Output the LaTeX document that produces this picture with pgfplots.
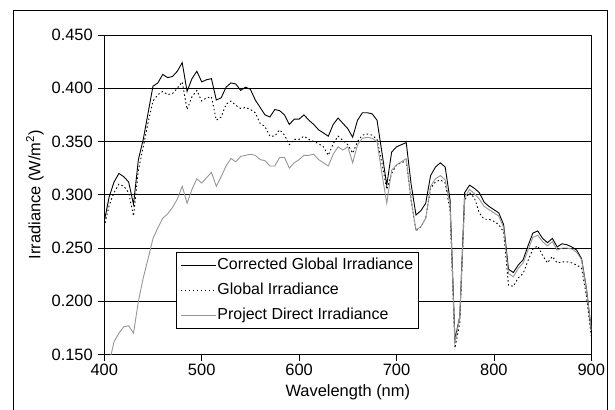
\documentclass[border=0pt]{standalone}
\usepackage{pgfplots}
\usepackage{pgfplotstable}
\pgfplotsset{compat=1.18}
\usepackage{fontspec}
\setmainfont{Liberation Sans}

\definecolor{directgray}{RGB}{150,150,150}

% wavelength, corrected global, global, project direct
\pgfplotstableread{
lam  corr   glob   dir
400  0.275  0.270  nan
405  0.298  0.290  0.142
410  0.312  0.302  0.162
415  0.320  0.310  0.170
420  0.317  0.308  0.176
425  0.312  0.302  0.177
430  0.291  0.280  0.170
435  0.333  0.323  0.200
440  0.352  0.345  0.222
445  0.377  0.368  0.240
450  0.402  0.388  0.259
455  0.405  0.394  0.269
460  0.413  0.397  0.278
465  0.410  0.394  0.282
470  0.411  0.395  0.288
475  0.416  0.400  0.296
480  0.424  0.406  0.308
485  0.397  0.380  0.292
490  0.409  0.392  0.305
495  0.416  0.398  0.315
500  0.406  0.388  0.311
505  0.408  0.391  0.316
510  0.409  0.392  0.321
515  0.389  0.370  0.308
520  0.391  0.373  0.317
525  0.401  0.385  0.327
530  0.405  0.388  0.334
535  0.404  0.384  0.331
540  0.398  0.381  0.336
545  0.401  0.382  0.337
550  0.399  0.380  0.338
555  0.389  0.377  0.337
560  0.382  0.367  0.333
565  0.375  0.364  0.332
570  0.373  0.355  0.327
575  0.380  0.355  0.327
580  0.379  0.361  0.335
585  0.375  0.356  0.335
590  0.366  0.347  0.325
595  0.371  0.352  0.330
600  0.371  0.352  0.333
605  0.375  0.355  0.337
610  0.370  0.352  0.337
615  0.366  0.350  0.338
620  0.361  0.348  0.333
625  0.358  0.345  0.330
630  0.355  0.337  0.327
635  0.366  0.348  0.338
640  0.372  0.355  0.345
645  0.367  0.351  0.342
650  0.362  0.347  0.345
655  0.354  0.339  0.330
660  0.370  0.350  0.347
665  0.377  0.356  0.353
670  0.377  0.357  0.354
675  0.376  0.356  0.353
680  0.370  0.352  0.350
685  0.340  0.330  0.320
690  0.309  0.305  0.292
695  0.340  0.320  0.323
700  0.345  0.328  0.328
705  0.347  0.330  0.331
710  0.349  0.332  0.334
715  0.310  0.295  0.295
720  0.281  0.266  0.267
725  0.285  0.270  0.270
730  0.292  0.278  0.278
735  0.318  0.306  0.308
740  0.326  0.312  0.315
745  0.330  0.314  0.318
750  0.326  0.311  0.314
755  0.295  0.285  0.290
760  0.164  0.156  0.161
765  0.186  0.180  0.186
770  0.302  0.295  0.297
775  0.309  0.302  0.305
780  0.306  0.297  0.301
785  0.302  0.283  0.296
790  0.293  0.277  0.289
795  0.289  0.277  0.286
800  0.286  0.275  0.283
805  0.283  0.272  0.280
810  0.272  0.265  0.269
815  0.230  0.215  0.226
820  0.227  0.214  0.223
825  0.234  0.222  0.231
830  0.239  0.226  0.236
835  0.252  0.238  0.248
840  0.264  0.249  0.260
845  0.266  0.252  0.262
850  0.259  0.243  0.256
855  0.255  0.236  0.252
860  0.259  0.242  0.256
865  0.251  0.236  0.248
870  0.254  0.237  0.250
875  0.253  0.237  0.250
880  0.251  0.236  0.249
885  0.248  0.234  0.246
890  0.240  0.231  0.239
895  0.212  0.205  0.211
900  0.173  0.167  0.173
}\spectrum

\begin{document}
\begin{tikzpicture}
\useasboundingbox (-104.3bp,-55.5bp) rectangle (510.7bp,354.5bp);
\begin{axis}[
    scale only axis,
    width=487bp, height=319.5bp,
    xmin=400, xmax=900,
    ymin=0.15, ymax=0.45,
    xtick={400,500,...,900},
    ytick={0.15,0.2,0.25,0.3,0.35,0.4,0.45},
    /pgf/number format/assume math mode=true,
    ticklabel style={font=\fontsize{16.5}{19}\selectfont},
    yticklabel style={xshift=-2bp,
        /pgf/number format/.cd, fixed, fixed zerofill, precision=3},
    xticklabel style={/pgf/number format/.cd, fixed, set thousands separator={}},
    tick align=outside,
    tick pos=left,
    major tick length=6bp,
    tick style={black, line width=0.8bp},
    axis line style={black, line width=0.8bp},
    ymajorgrids,
    major grid style={black, line width=0.8bp},
    xlabel={Wavelength (nm)},
    ylabel={Irradiance (W/m\textsuperscript{2})},
    xlabel style={font=\fontsize{16.5}{19}\selectfont,
        at={(axis description cs:0.5,-0.1174)}, anchor=center},
    ylabel style={font=\fontsize{16.5}{19}\selectfont,
        at={(axis description cs:-0.1423,0.5)}, anchor=center},
    legend cell align=left,
    legend style={
        at={(axis description cs:0.1472,0.3218)}, anchor=north west,
        draw=black, line width=0.8bp, fill=white,
        font=\fontsize{16}{19}\selectfont,
        inner sep=4bp,
        row sep=7.1bp,
        nodes={inner sep=1.2bp, text height=12bp, text depth=3.5bp},
    },
    legend image code/.code={\draw[#1] (0bp,0bp) -- (35bp,0bp);},
]
\addplot[black, line width=0.9bp] table[x=lam, y=corr] {\spectrum};
\addlegendentry{Corrected Global Irradiance}
\addplot[black, line width=0.9bp, dash pattern=on 1.5bp off 2.5bp] table[x=lam, y=glob] {\spectrum};
\addlegendentry{Global Irradiance}
\addplot[directgray, line width=0.9bp] table[x=lam, y=dir] {\spectrum};
\addlegendentry{Project Direct Irradiance}
\end{axis}
\draw[black, line width=1bp] (-90.3bp,-60bp) -- (-90.3bp,343.5bp) -- (503.2bp,343.5bp) -- (503.2bp,-60bp);
\end{tikzpicture}
\end{document}
